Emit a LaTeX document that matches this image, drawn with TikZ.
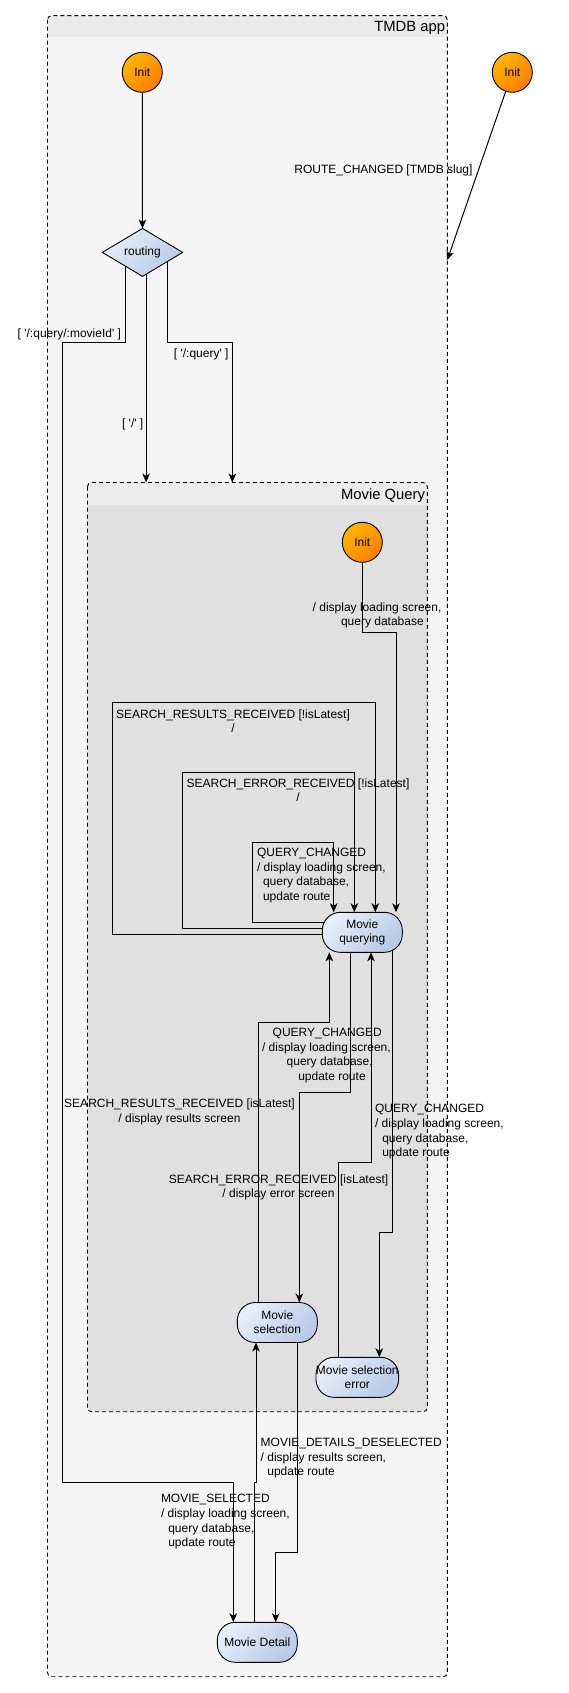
\documentclass[tikz,border=0pt]{standalone}
\usepackage{fontspec}
\setmainfont{Liberation Sans}
\usetikzlibrary{arrows.meta,calc,shapes.geometric}
\pgfdeclarelayer{back}
\pgfdeclarelayer{mid}
\pgfsetlayers{back,mid,main}

\definecolor{appbody}{RGB}{245,245,245}
\definecolor{apphead}{RGB}{234,234,234}
\definecolor{mqbody}{RGB}{224,224,224}
\definecolor{mqhead}{RGB}{236,236,236}
\definecolor{initlight}{RGB}{255,182,0}
\definecolor{initdark}{RGB}{255,125,0}
\definecolor{statelight}{RGB}{230,238,250}
\definecolor{statedark}{RGB}{184,202,230}

\tikzset{
  every node/.style={inner sep=0pt, outer sep=0pt},
  txt/.style={font=\fontsize{12}{14.7}\selectfont},
  lbl/.style={txt, text=black},
  title/.style={font=\fontsize{14.8}{17}\selectfont},
  initstate/.style={circle, draw=black, line width=0.9pt, minimum size=40pt,
    top color=initlight, bottom color=initdark, shading angle=45, txt},
  state/.style={rectangle, rounded corners=18pt, draw=black, line width=0.9pt,
    minimum width=80pt, minimum height=40pt, top color=statelight,
    bottom color=statedark, shading angle=45, align=center,
    font=\fontsize{12}{14}\selectfont},
  choice/.style={diamond, draw=black, line width=0.9pt, minimum width=80.4pt,
    minimum height=40pt, top color=statelight, bottom color=statedark,
    shading angle=45, txt},
  arr/.style={draw=black, line width=1pt, -{Stealth[length=9pt,width=7.5pt,inset=2.5pt]}},
  boxline/.style={draw=black, line width=0.9pt, dash pattern=on 4pt off 3pt, rounded corners=4pt},
}

\begin{document}
\begin{tikzpicture}[x=1pt, y=-1pt]
\useasboundingbox (0,0) rectangle (568,1693);

% composite states: body, header band, dashed outline
\begin{pgfonlayer}{back}
  \node[anchor=north west, minimum width=399.8pt, minimum height=1661pt,
        fill=appbody, rounded corners=4pt] (app) at (47.5,15.7) {};
  \begin{scope}
    \clip[rounded corners=4pt] (app.north west) rectangle (app.south east);
    \fill[apphead] (app.north west) rectangle ($(app.north east)+(0,21.6)$);
  \end{scope}
  \draw[boxline] (app.north west) rectangle (app.south east);

  \node[anchor=north west, minimum width=339.8pt, minimum height=929.2pt,
        fill=mqbody, rounded corners=4pt] (mq) at (87.5,482.5) {};
  \begin{scope}
    \clip[rounded corners=4pt] (mq.north west) rectangle (mq.south east);
    \fill[mqhead] (mq.north west) rectangle ($(mq.north east)+(0,22.5)$);
  \end{scope}
  \draw[boxline] (mq.north west) rectangle (mq.south east);
\end{pgfonlayer}

\node[title, anchor=base east] (apptitle) at (445,31.8) {TMDB app};
\node[title, anchor=base east] (mqtitle) at (425,499) {Movie Query};

% states
\node[initstate] (init1) at (142.3,72.3) {Init};
\node[initstate] (init2) at (512.3,72.3) {Init};
\node[choice] (routing) at (142.5,252.4) {routing};
\node[initstate] (init3) at (362.3,542.3) {Init};
\node[state] (mqy) at (362.3,932.3) {Movie\\querying};
\node[state] (ms) at (277.3,1322.5) {Movie\\selection};
\node[state] (mse) at (357.3,1377.3) {Movie selection\\error};
\node[state] (md) at (257.3,1642.3) {Movie Detail};

% bend points and free ends
\coordinate (rc) at (447.3,260);
\coordinate (r1) at ($(routing.west)!0.58!(routing.south)$);
\coordinate (r2) at ($(routing.east)!0.91!(routing.south)$);
\coordinate (r3) at ($(routing.east)!0.38!(routing.south)$);
\coordinate (q3) at (232.3,342.3);
\coordinate (k1) at (62.5,342.3);
\coordinate (k2) at (62.5,1482);
\coordinate (lp1) at (112.3,702.3);
\coordinate (lp2) at (182.3,772.3);
\coordinate (lp3) at (252.3,842.7);

% transitions
\begin{pgfonlayer}{mid}
  \draw[arr] (init1) -- (routing);
  \draw[arr] (init2) -- (rc);
  \draw[arr] (r2) -- (r2 |- mq.north);
  \draw[arr] (r3) |- (q3) -- (q3 |- mq.north);
  \draw[arr] (r1) |- (k1) -- (k2) -| ($(md.north)+(-24,0)$);
  \draw[arr] (init3) |- ($(mqy.north)+(33.7,-280)$) -- ($(mqy.north)+(33.7,0)$);

  \draw[arr] ($(mqy.center)+(0,2)$) -| (lp1) -| ($(mqy.north)+(13,0)$);
  \draw[arr] ($(mqy.center)+(0,-4)$) -| (lp2) -| ($(mqy.north)+(-8,0)$);
  \draw[arr] ($(mqy.center)+(0,-10)$) -| (lp3) -| ($(mqy.north)+(-28.6,0)$);

  \draw[arr] ($(ms.center)+(-19,0)$) |- ($(mqy.south)+(-33,69.7)$) -- ($(mqy.south)+(-33,0)$);
  \draw[arr] ($(mqy.center)+(-11.6,0)$) |- ($(ms.north)+(22,-210.2)$) -- ($(ms.north)+(22,0)$);
  \draw[arr] ($(mse.center)+(-19,0)$) |- ($(mqy.south)+(8.7,209.7)$) -- ($(mqy.south)+(8.7,0)$);
  \draw[arr] ($(mqy.center)+(30,0)$) |- ($(mse.north)+(22,-125)$) -- ($(mse.north)+(22,0)$);

  \draw[arr] ($(ms.center)+(20,0)$) |- ($(md.north)+(18.4,-70)$) -- ($(md.north)+(18.4,0)$);
  \draw[arr] ($(md.center)+(-3,0)$) |- ($(ms.south)+(-21.3,139.5)$) -- ($(ms.south)+(-21.3,0)$);
\end{pgfonlayer}

% transition labels
\node[lbl, anchor=north] (lrc) at (383.5,164.8) {ROUTE\_CHANGED [TMDB slug]};
\node[lbl, anchor=north east] (lmovie) at (121,328.8) {[ \textquotesingle/:query/:movieId\textquotesingle\ ]};
\node[lbl, anchor=north] (lroot) at (132.7,418.8) {[ \textquotesingle/\textquotesingle\ ]};
\node[lbl, anchor=north] (lquery) at (201.2,348.8) {[ \textquotesingle/:query\textquotesingle\ ]};
\node[lbl, anchor=north west, align=left] (linit) at (312.7,602.5)
  {/ display loading screen,\\\hspace*{28.3pt}query database};

\node[lbl, anchor=north, align=center] (lsrr) at (233,709.5)
  {SEARCH\_RESULTS\_RECEIVED [!isLatest]\\/};
\node[lbl, anchor=north, align=center] (lser) at (298,778.5)
  {SEARCH\_ERROR\_RECEIVED [!isLatest]\\/};
\node[lbl, anchor=north west, align=left] (lqc) at (257,848.2)
  {QUERY\_CHANGED\\/ display loading screen,\\\hspace*{6pt}query database,\\\hspace*{6pt}update route};

\node[lbl, anchor=north, align=center] (lsrl) at (179.5,1098.8)
  {SEARCH\_RESULTS\_RECEIVED [isLatest]\\/ display results screen};
\node[lbl, anchor=north west, align=left] (lqcs) at (262,1028.2)
  {\hspace*{10.7pt}QUERY\_CHANGED\\/ display loading screen,\\\hspace*{24.7pt}query database,\\\hspace*{36.3pt}update route};
\node[lbl, anchor=north, align=center] (lsel) at (278.5,1174.5)
  {SEARCH\_ERROR\_RECEIVED [isLatest]\\/ display error screen};
\node[lbl, anchor=north west, align=left] (lqce) at (375,1104.5)
  {QUERY\_CHANGED\\/ display loading screen,\\\hspace*{7.3pt}query database,\\\hspace*{7.3pt}update route};

\node[lbl, anchor=north west, align=left] (lmdd) at (260.7,1438.2)
  {MOVIE\_DETAILS\_DESELECTED\\/ display results screen,\\\hspace*{6.7pt}update route};
\node[lbl, anchor=north west, align=left] (lmsel) at (161,1494.5)
  {MOVIE\_SELECTED\\/ display loading screen,\\\hspace*{7.3pt}query database,\\\hspace*{7.3pt}update route};
\end{tikzpicture}
\end{document}
